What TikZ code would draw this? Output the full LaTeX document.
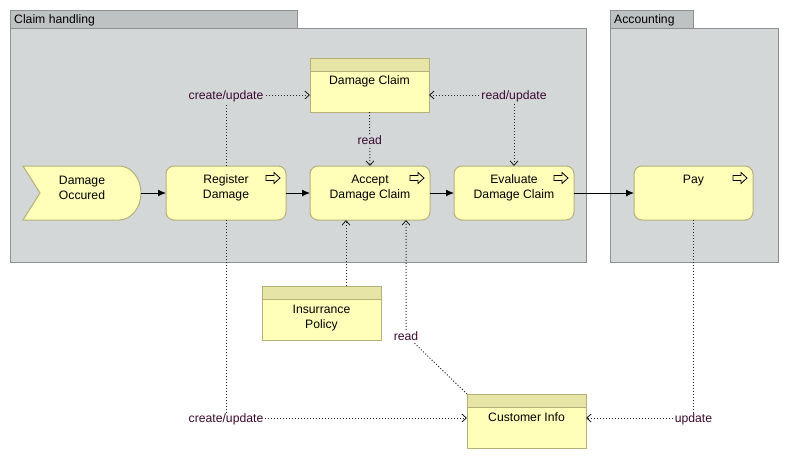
\documentclass[tikz,border=0pt]{standalone}
\usepackage{fontspec}
\setmainfont{Liberation Sans}
\usetikzlibrary{arrows.meta,calc}
\definecolor{panel}{HTML}{D3D7D8}
\definecolor{tabfill}{HTML}{BFC2C3}
\definecolor{panelline}{HTML}{8E9191}
\definecolor{elfill}{HTML}{FFFFBA}
\definecolor{elline}{HTML}{B4B078}
\definecolor{hdrfill}{HTML}{E6E5A5}
\definecolor{lblcol}{HTML}{3A0A30}
\tikzset{
  panelbody/.style={draw=panelline, fill=panel, line width=1pt, inner sep=0pt, outer sep=0pt},
  tabbox/.style={draw=panelline, fill=tabfill, line width=1pt, inner sep=0pt, outer sep=0pt, minimum height=18pt},
  tabtext/.style={anchor=west, inner sep=0pt, text=black, yshift=-1.5pt},
  proc/.style={draw=elline, fill=elfill, line width=1pt, rounded corners=8pt, minimum width=120pt, minimum height=54pt, inner sep=0pt, outer sep=0pt},
  evshape/.style={minimum width=118pt, minimum height=54pt, inner sep=0pt, outer sep=0pt},
  dobj/.style={draw=elline, fill=elfill, line width=1pt, minimum width=119pt, minimum height=54pt, inner sep=0pt, outer sep=0pt,
    path picture={
      \fill[hdrfill] (path picture bounding box.north west) rectangle ([yshift=-13pt]path picture bounding box.north east);
      \draw[elline, line width=1pt] ([yshift=-13pt]path picture bounding box.north west) -- ([yshift=-13pt]path picture bounding box.north east);
    }},
  txt/.style={align=center, inner sep=0pt, text=black, yshift=-1.5pt},
  lbl/.style={inner sep=0.6pt, text=lblcol, yshift=-1.5pt},
  flow/.style={draw=black, line width=1pt, -{Latex[length=8pt,width=7pt]}},
  assoc/.style={draw=black!85, line width=1pt, dash pattern=on 1pt off 2pt},
  otip/.tip={Straight Barb[length=4.5pt,width=8pt,line width=0.9pt]},
  procicon/.pic={
    \draw[black, line width=0.8pt, fill=elfill, line join=miter]
      (-7,-2.5) -- (1,-2.5) -- (1,-5.5) -- (7,0) -- (1,5.5) -- (1,2.5) -- (-7,2.5) -- cycle;
  }
}
\begin{document}
\begin{tikzpicture}[x=1pt, y=-1pt, font=\fontsize{12.2}{15}\selectfont]
\useasboundingbox (0,0) rectangle (789,459);

% containers
\node[panelbody, minimum width=576pt, minimum height=234pt] (chbody) at (298,145) {};
\node[tabbox, minimum width=287pt] (chtab) at (153.5,19) {};
\node[tabtext] (chtxt) at (14,19) {Claim handling};

\node[panelbody, minimum width=168pt, minimum height=234pt] (acbody) at (694,145) {};
\node[tabbox, minimum width=83pt] (actab) at (651.5,19) {};
\node[tabtext] (actxt) at (614,19) {Accounting};

% event
\node[evshape] (occ) at (82,193) {};
\fill[elfill] (occ.north west) -- ([xshift=-22pt]occ.north east)
  arc[start angle=-90, end angle=90, x radius=22, y radius=27]
  -- (occ.south west) -- ([xshift=17pt]occ.west) -- cycle;
\draw[elline, line width=1pt] (occ.north west) -- ([xshift=-22pt]occ.north east)
  arc[start angle=-90, end angle=90, x radius=22, y radius=27]
  -- (occ.south west) -- ([xshift=17pt]occ.west) -- cycle;
\node[txt] (occt) at (82,186.5) {Damage\\Occured};

% processes
\node[proc] (reg) at (226,193) {};
\node[txt] (regt) at (226,186.5) {Register\\Damage};
\pic at (273,178) {procicon};

\node[proc] (acc) at (370,193) {};
\node[txt] (acct) at (370,186.5) {Accept\\Damage Claim};
\pic at (417,178) {procicon};

\node[proc] (eva) at (514,193) {};
\node[txt] (evat) at (514,186.5) {Evaluate\\Damage Claim};
\pic at (561,178) {procicon};

\node[proc, minimum width=119pt] (pay) at (693.5,193) {};
\node[txt] (payt) at (693.5,179) {Pay};
\pic at (740,178) {procicon};

% data objects
\node[dobj] (dc) at (369.5,85) {};
\node[txt] (dct) at (369.5,80) {Damage Claim};

\node[dobj] (ins) at (321.5,313) {};
\node[txt] (inst) at (321.5,316.5) {Insurrance\\Policy};

\node[dobj] (ci) at (526.5,421) {};
\node[txt] (cit) at (526.5,416) {Customer Info};

% flows
\draw[flow] (occ.east) -- (reg.west);
\draw[flow] (reg.east) -- (acc.west);
\draw[flow] (acc.east) -- (eva.west);
\draw[flow] (eva.east) -- (pay.west);

% associations
\draw[assoc, -otip] (reg.north) |- ([yshift=-10pt]dc.west)
  node[lbl, fill=panel, pos=0.5] (l1) {create/update};
\draw[assoc, -otip] (dc.south) -- (acc.north)
  node[lbl, fill=panel, pos=0.5] (l2) {read};
\draw[assoc, otip-otip] (eva.north) |- ([yshift=-10pt]dc.east)
  node[lbl, fill=panel, pos=0.5] (l3) {read/update};
\draw[assoc, -otip] ([xshift=24.5pt]ins.north) -- ([xshift=-24pt]acc.south);
\coordinate (rb) at (406,335);
\draw[assoc, -otip] (ci.north west) -- (rb) -- (rb |- acc.south);
\node[lbl, fill=white] (l4) at (rb) {read};
\draw[assoc, -otip] (reg.south) |- ([yshift=3pt]ci.west)
  node[lbl, fill=white, pos=0.5] (l5) {create/update};
\draw[assoc, -otip] (pay.south) |- ([yshift=3pt]ci.east)
  node[lbl, fill=white, pos=0.5] (l6) {update};
\end{tikzpicture}
\end{document}
